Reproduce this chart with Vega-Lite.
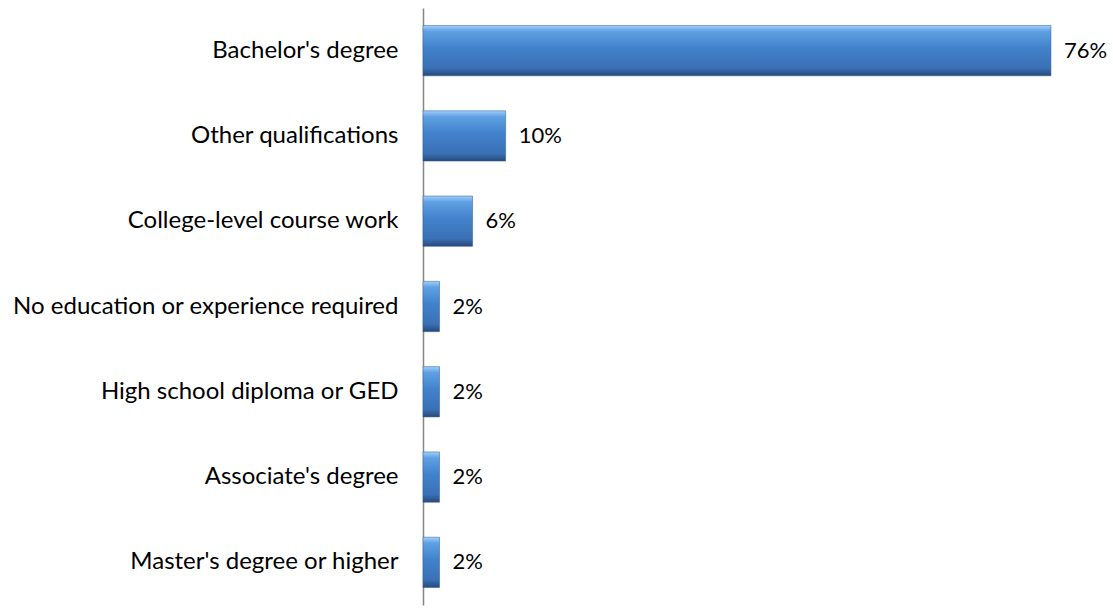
{
  "$schema": "https://vega.github.io/schema/vega-lite/v6.json",
  "width": 661,
  "height": 597,
  "autosize": "none",
  "padding": {"left": 423, "top": 8, "right": 29, "bottom": 7},
  "background": "white",
  "config": {"view": {"stroke": null}},
  "data": {
    "values": [
      {"category": "Bachelor's degree", "value": 0.76},
      {"category": "Other qualifications", "value": 0.10},
      {"category": "College-level course work", "value": 0.06},
      {"category": "No education or experience required", "value": 0.02},
      {"category": "High school diploma or GED", "value": 0.02},
      {"category": "Associate's degree", "value": 0.02},
      {"category": "Master's degree or higher", "value": 0.02}
    ]
  },
  "encoding": {
    "y": {
      "field": "category",
      "type": "nominal",
      "sort": null,
      "scale": {"paddingInner": 0.41, "paddingOuter": 0.205},
      "axis": {
        "title": null,
        "ticks": false,
        "domainColor": "#868686",
        "domainWidth": 1.5,
        "labelFont": "Lato",
        "labelFontSize": 24,
        "labelColor": "#000000",
        "labelPadding": 25,
        "labelLimit": 500
      }
    },
    "x": {
      "field": "value",
      "type": "quantitative",
      "scale": {"domain": [0, 0.8], "nice": false},
      "axis": null
    }
  },
  "layer": [
    {
      "mark": {
        "type": "bar",
        "stroke": "#2f5a8f",
        "strokeWidth": 0.5,
        "fill": {
          "gradient": "linear",
          "x1": 0, "y1": 0, "x2": 0, "y2": 1,
          "stops": [
            {"offset": 0, "color": "#9fd0fa"},
            {"offset": 0.12, "color": "#5f9fe2"},
            {"offset": 0.45, "color": "#4282cc"},
            {"offset": 0.85, "color": "#3a70b5"},
            {"offset": 1, "color": "#27497a"}
          ]
        }
      }
    },
    {
      "mark": {
        "type": "text",
        "align": "left",
        "baseline": "middle",
        "dx": 13,
        "font": "Lato",
        "fontSize": 22,
        "color": "#000000"
      },
      "encoding": {
        "text": {"field": "value", "type": "quantitative", "format": ".0%"}
      }
    }
  ]
}
